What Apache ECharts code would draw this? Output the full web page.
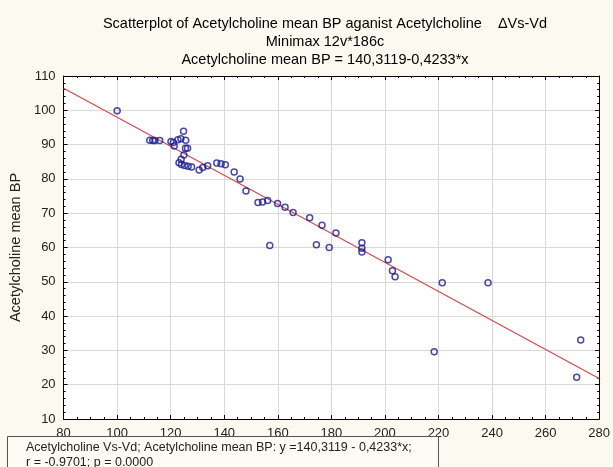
<!DOCTYPE html>
<html><head><meta charset="utf-8">
<script src="https://cdn.jsdelivr.net/npm/echarts@6/dist/echarts.min.js"></script>
<style>html,body{margin:0;padding:0;background:#fcfaf0;}#c{width:613px;height:467px;}</style>
</head><body><div id="c"></div>
<script>
const titleLines = [
  'Scatterplot of Acetylcholine mean BP aganist Acetylcholine    \u0394Vs-Vd',
  'Minimax 12v*186c',
  'Acetylcholine mean BP = 140,3119-0,4233*x'
];
const xName = 'Acetylcholine Vs-Vd';
const yName = 'Acetylcholine mean BP';
const xTicks = [80, 280, 20];
const yTicks = [10, 110, 10];
const intercept = 140.3119;
const slope = -0.4233;
const legendLines = [
  'Acetylcholine Vs-Vd; Acetylcholine mean BP: y =140,3119 - 0,4233*x;',
  'r = -0.9701; p = 0.0000'
];
const xVals = [100, 112.2, 113.3, 114.1, 115.9, 120.1, 121.0, 121.3, 122.7, 123.8, 124.8, 125.6,
  125.5, 126.3, 124.9, 123.9, 123.1, 124.0, 125.2, 126.5, 127.8, 130.6, 132.0, 133.8,
  137.2, 138.8, 140.4, 143.7, 145.9, 148.1, 152.6, 154.3, 156.2, 159.9, 162.7, 165.7,
  171.9, 176.5, 181.7, 157.0, 174.4, 179.2, 191.4, 191.4, 191.4, 201.2, 202.8, 203.8,
  221.4, 238.5, 218.4, 273.1, 271.6];
const yVals = [99.9, 91.3, 91.2, 91.2, 91.2, 90.9, 90.6, 89.6, 91.4, 91.7, 93.9, 91.3,
  88.9, 88.9, 87.0, 85.7, 84.7, 84.2, 83.9, 83.7, 83.5, 82.6, 83.3, 83.8,
  84.6, 84.4, 84.1, 82.0, 80.0, 76.5, 73.1, 73.3, 73.7, 72.8, 71.7, 70.2,
  68.7, 66.5, 64.2, 60.6, 60.8, 60.0, 61.4, 59.8, 58.7, 56.4, 53.2, 51.5,
  49.7, 49.7, 29.6, 33.0, 22.2];

const pts = xVals.map((x, i) => [x, yVals[i]]);
const fitLine = [xTicks[0], xTicks[1]].map(x => [x, intercept + slope * x]);
const FONT = 'Liberation Sans';

const chart = echarts.init(document.getElementById('c'), null, {renderer: 'canvas'});
const axisCommon = {
  axisLine: {show: true, onZero: false, lineStyle: {color: '#000', width: 1}},
  axisTick: {show: true, inside: true, length: 4, lineStyle: {color: '#000'}},
  minorTick: {show: true, splitNumber: 5, length: 2, lineStyle: {color: '#000'}}
};
chart.setOption({
  backgroundColor: '#fcfaf0',
  animation: false,
  title: {
    text: titleLines.join('\n'),
    left: 320, top: 10, textAlign: 'center',
    textStyle: {fontFamily: FONT, fontSize: 14.5, fontWeight: 'normal', color: '#000', lineHeight: 18, align: 'center'}
  },
  grid: {left: 61, right: 12, top: 76, bottom: 48, show: true, backgroundColor: '#ffffff', borderWidth: 0},
  xAxis: [
    Object.assign({}, axisCommon, {
      type: 'value', position: 'bottom', min: xTicks[0], max: xTicks[1], interval: xTicks[2],
      minorTick: {show: true, splitNumber: 4, length: 2, lineStyle: {color: '#000'}},
      splitLine: {show: true, lineStyle: {color: '#d9d9d9', width: 1}},
      axisLabel: {fontFamily: FONT, fontSize: 13, color: '#222', margin: 8}
    }),
    Object.assign({}, axisCommon, {
      type: 'value', position: 'top', min: xTicks[0], max: xTicks[1], interval: xTicks[2],
      minorTick: {show: true, splitNumber: 4, length: 2, lineStyle: {color: '#000'}},
      splitLine: {show: false}, axisLabel: {show: false}
    })
  ],
  yAxis: [
    Object.assign({}, axisCommon, {
      type: 'value', position: 'left', min: yTicks[0], max: yTicks[1], interval: yTicks[2],
      splitLine: {show: true, lineStyle: {color: '#d9d9d9', width: 1}},
      axisLabel: {fontFamily: FONT, fontSize: 13, color: '#222', margin: 8},
      name: yName, nameLocation: 'middle', nameGap: 33, nameRotate: 90,
      nameTextStyle: {fontFamily: FONT, fontSize: 14.5, color: '#222'}
    }),
    Object.assign({}, axisCommon, {
      type: 'value', position: 'right', min: yTicks[0], max: yTicks[1], interval: yTicks[2],
      splitLine: {show: false}, axisLabel: {show: false}
    })
  ],
  series: [
    {
      type: 'line', data: fitLine, showSymbol: false, symbol: 'none', silent: true,
      lineStyle: {color: '#d9474d', width: 1.2}, z: 2
    },
    {
      type: 'scatter', data: pts, symbol: 'circle', symbolSize: 6,
      itemStyle: {color: 'rgba(255,255,255,0)', borderColor: '#1d1d8f', borderWidth: 1.5}, z: 3
    }
  ],
  graphic: [
    {type: 'rect', z: 100, shape: {x: 7.5, y: 436.5, width: 431, height: 40},
     style: {fill: '#fdfbf3', stroke: '#555', lineWidth: 1}},
    {type: 'text', z: 101, left: 26, top: 440,
     style: {text: legendLines.join('\n'), fontFamily: FONT, fontSize: 12.5, fill: '#222', lineHeight: 15}}
  ]
});
</script></body></html>
